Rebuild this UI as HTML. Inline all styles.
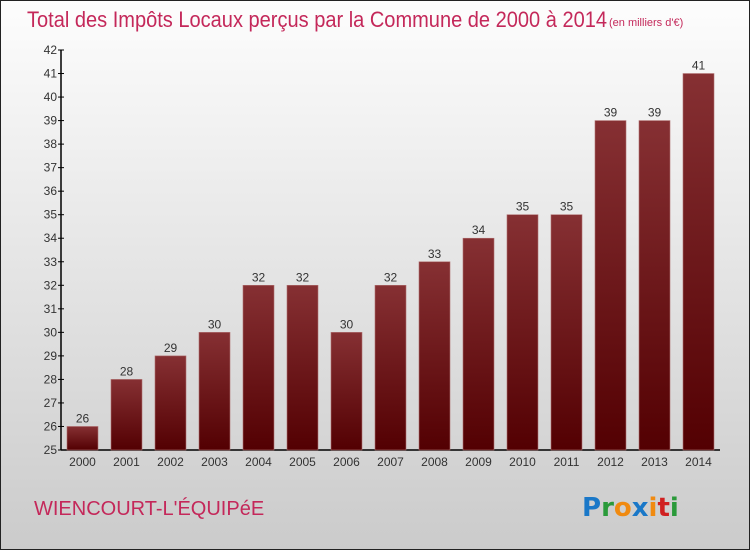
<!DOCTYPE html>
<html><head><meta charset="utf-8"><style>
body{margin:0;width:750px;height:550px;overflow:hidden;font-family:"Liberation Sans",sans-serif}
</style></head><body>
<svg width="750" height="550" xmlns="http://www.w3.org/2000/svg">
<defs>
<linearGradient id="bg" x1="0" y1="0" x2="0" y2="1"><stop offset="0" stop-color="#fdfdfd"/><stop offset="1" stop-color="#cbcbcb"/></linearGradient>
<linearGradient id="bar" x1="0" y1="0" x2="0" y2="1"><stop offset="0" stop-color="#863033"/><stop offset="1" stop-color="#530002"/></linearGradient>
</defs>
<rect x="0.5" y="0.5" width="749" height="549" fill="url(#bg)" stroke="#222"/>
<text x="27" y="27" font-size="22" fill="#c4285a" textLength="580" lengthAdjust="spacingAndGlyphs">Total des Impôts Locaux perçus par la Commune de 2000 à 2014</text>
<text x="609" y="26" font-size="11" fill="#c4285a">(en milliers d'€)</text>
<g id="axes"></g>
<g id="bars"></g>
<text x="34" y="515" font-size="20" fill="#c4285a">WIENCOURT-L'ÉQUIPéE</text>
<g font-size="26" font-weight="bold" font-family="'DejaVu Sans',sans-serif">
<text x="582" y="516"><tspan fill="#1a78c8">P</tspan><tspan fill="#2a9a3a">r</tspan><tspan fill="#f08a10">o</tspan><tspan fill="#1a78c8">x</tspan><tspan fill="#f08a10">i</tspan><tspan fill="#d02020">t</tspan><tspan fill="#2a9a3a">i</tspan></text>
</g>
</svg>
<script>
const years=["2000","2001","2002","2003","2004","2005","2006","2007","2008","2009","2010","2011","2012","2013","2014"];
const values=[26,28,29,30,32,32,30,32,33,34,35,35,39,39,41];
const yTicks=[25,26,27,28,29,30,31,32,33,34,35,36,37,38,39,40,41,42];
const NS="http://www.w3.org/2000/svg";
const y=v=>450-(v-25)*(400/17);
const x=i=>82.5+i*44;
function mk(t,a,p,txt){const e=document.createElementNS(NS,t);for(const k in a)e.setAttribute(k,a[k]);if(txt!=null)e.textContent=txt;p.appendChild(e);return e;}
const ax=document.getElementById('axes'),bs=document.getElementById('bars');
const yl=mk('line',{x1:61,y1:y(42),x2:61,y2:450,stroke:'#000','stroke-width':1.5},ax);


const xl=mk('line',{x1:61,y1:450,x2:720,y2:450,stroke:'#000','stroke-width':1.5},ax);


yTicks.forEach(t=>{
 mk('line',{x1:58,y1:y(t),x2:64,y2:y(t),stroke:'#000'},ax);
 const l=mk('text',{x:57,y:y(t)+4,'font-size':12,fill:'#333','text-anchor':'end'},ax,t);
 
 
});
years.forEach((yr,i)=>{
 const v=values[i];
 const r=mk('rect',{x:x(i)-15.5,y:y(v),width:31,height:450-y(v),fill:'url(#bar)',stroke:'#b07070','stroke-width':0.6},bs);
 
 
 const vl=mk('text',{x:x(i),y:y(v)-4,'font-size':12,fill:'#333','text-anchor':'middle'},bs,v);
 
 
 const xl2=mk('text',{x:x(i),y:466,'font-size':12,fill:'#333','text-anchor':'middle'},bs,yr);
 
 
});
</script>
</body></html>
